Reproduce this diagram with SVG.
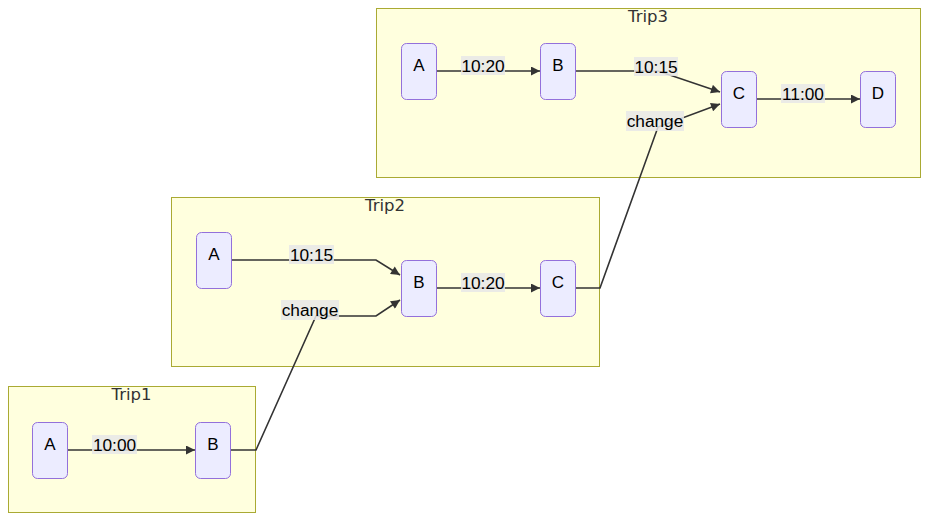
<svg xmlns="http://www.w3.org/2000/svg" width="929" height="521" viewBox="0 0 929 521">
<defs>
<marker id="arr" viewBox="0 0 10 10" refX="10" refY="5" markerUnits="userSpaceOnUse" markerWidth="11" markerHeight="9" orient="auto">
<path d="M0,0 L10,5 L0,10 z" fill="#333333"/>
</marker>
<style>
.cluster{fill:#ffffde;stroke:#aaaa33;stroke-width:1}
.ctitle{font-family:"DejaVu Sans",Verdana,sans-serif;font-size:16.5px;fill:#333333;text-anchor:middle}
.node rect{fill:#ececff;stroke:#9370db;stroke-width:1}
.node text{font-family:"Liberation Sans",Arial,sans-serif;font-size:17px;fill:#000;text-anchor:middle}
.edge{fill:none;stroke:#333333;stroke-width:1.6}
.lbl rect{fill:#e8e8e8;opacity:0.85}
.lbl text{font-family:"Liberation Sans",Arial,sans-serif;font-size:17.3px;fill:#000;text-anchor:middle}
</style>
</defs>

<g id="clusters">
<g id="Trip3"><rect class="cluster" x="376.5" y="8.5" width="544" height="169"/><text class="ctitle" x="648" y="22">Trip3</text></g>
<g id="Trip2"><rect class="cluster" x="171.5" y="197.5" width="428" height="169"/><text class="ctitle" x="385" y="211">Trip2</text></g>
<g id="Trip1"><rect class="cluster" x="8.5" y="386.5" width="247" height="126"/><text class="ctitle" x="131.5" y="400">Trip1</text></g>
</g>

<g id="connectors">
<polyline class="edge" points="436,71 540,71" marker-end="url(#arr)"/>
<polyline class="edge" points="575,71 658,71 720,92" marker-end="url(#arr)"/>
<polyline class="edge" points="756,99 860,99" marker-end="url(#arr)"/>
<polyline class="edge" points="575,288 600,288 658,127 720,104" marker-end="url(#arr)"/>
<polyline class="edge" points="231,260 376,260 400,275" marker-end="url(#arr)"/>
<polyline class="edge" points="436,288 540,288" marker-end="url(#arr)"/>
<polyline class="edge" points="230,450 256,450 316,316 376,316 400,300" marker-end="url(#arr)"/>
<polyline class="edge" points="67,450 195,450" marker-end="url(#arr)"/>
</g>

<g id="edge-labels">
<g class="lbl"><rect x="461" y="56" width="44" height="19"/><text x="483" y="71.5">10:20</text></g>
<g class="lbl"><rect x="634" y="57" width="44" height="19"/><text x="656" y="72.5">10:15</text></g>
<g class="lbl"><rect x="781" y="84" width="44" height="19"/><text x="803" y="99.5">11:00</text></g>
<g class="lbl"><rect x="626" y="111" width="58" height="20"/><text x="655" y="127">change</text></g>
<g class="lbl"><rect x="289" y="245" width="45" height="19"/><text x="311.5" y="260.5">10:15</text></g>
<g class="lbl"><rect x="461" y="273" width="44" height="19"/><text x="483" y="288.5">10:20</text></g>
<g class="lbl"><rect x="281" y="300" width="58" height="20"/><text x="310" y="316">change</text></g>
<g class="lbl"><rect x="92" y="435" width="45" height="19"/><text x="114.5" y="450.5">10:00</text></g>
</g>

<g id="Trip3-A" class="node"><rect x="401.5" y="43.5" width="35" height="56" rx="5"/><text x="419" y="71">A</text></g>
<g id="Trip3-B" class="node"><rect x="540.5" y="43.5" width="35" height="56" rx="5"/><text x="558" y="71">B</text></g>
<g id="Trip3-C" class="node"><rect x="721.5" y="71.5" width="35" height="56" rx="5"/><text x="739" y="99">C</text></g>
<g id="Trip3-D" class="node"><rect x="860.5" y="71.5" width="35" height="56" rx="5"/><text x="878" y="99">D</text></g>
<g id="Trip2-A" class="node"><rect x="196.5" y="232.5" width="35" height="56" rx="5"/><text x="214" y="260">A</text></g>
<g id="Trip2-B" class="node"><rect x="401.5" y="260.5" width="35" height="56" rx="5"/><text x="419" y="288">B</text></g>
<g id="Trip2-C" class="node"><rect x="540.5" y="260.5" width="35" height="56" rx="5"/><text x="558" y="288">C</text></g>
<g id="Trip1-A" class="node"><rect x="32.5" y="422.5" width="35" height="56" rx="5"/><text x="50" y="450">A</text></g>
<g id="Trip1-B" class="node"><rect x="195.5" y="422.5" width="35" height="56" rx="5"/><text x="213" y="450">B</text></g>
</svg>
